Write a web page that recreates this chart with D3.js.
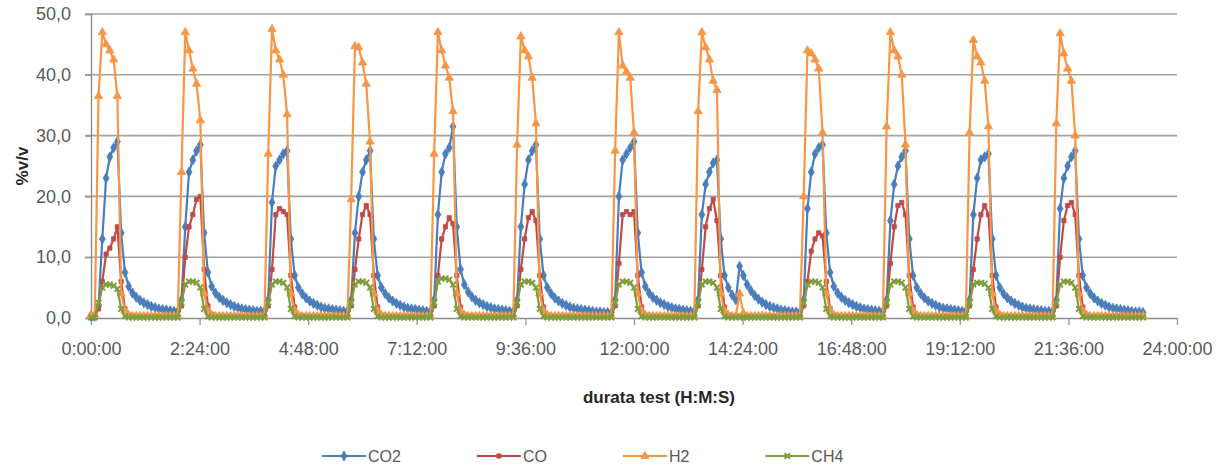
<!DOCTYPE html>
<html>
<head>
<meta charset="utf-8">
<script src="https://cdn.jsdelivr.net/npm/d3@7"></script>
<style>
  body { margin: 0; background: #ffffff; }
  text { font-family: "Liberation Sans", Arial, sans-serif; }
</style>
</head>
<body>
<div id="chart"></div>
<script>
// sampling interval of the analyser (minutes)
var stepMin = 5;

// start of each gasification cycle (minutes from test start)
var cycleStart = [0, 110, 225, 335, 445, 555, 685, 795, 935, 1045, 1155, 1270];

// %v/v readings, one array per cycle
var co2Data = [
  [0.3, 0.3, 2, 13, 23, 26.5, 28, 29, 14, 7.5, 5.2, 4.1, 3.4, 2.9, 2.5, 2.2, 1.9, 1.7, 1.5, 1.4, 1.3, 1.2],
  [1.1, 1.1, 3, 15, 24, 26, 27.5, 28.5, 14, 7.5, 5.2, 4.1, 3.4, 2.9, 2.5, 2.2, 1.9, 1.7, 1.5, 1.4, 1.3, 1.2, 1.1],
  [1.1, 1.1, 3, 19, 25, 26, 27, 27.5, 13, 7, 5, 4, 3.3, 2.8, 2.4, 2.1, 1.8, 1.6, 1.5, 1.4, 1.3, 1.2],
  [1.1, 1.1, 3, 14, 20, 24, 26, 27.5, 13, 7, 5, 4, 3.3, 2.8, 2.4, 2.1, 1.8, 1.6, 1.5, 1.4, 1.3, 1.2],
  [1.1, 1.1, 3, 17, 24, 27, 28, 31.5, 15, 8, 5.5, 4.3, 3.5, 2.9, 2.5, 2.2, 1.9, 1.7, 1.5, 1.4, 1.3, 1.2],
  [1.1, 1.1, 3, 15, 22, 26, 27.5, 28.5, 13, 7, 5, 4, 3.3, 2.8, 2.4, 2.1, 1.8, 1.6, 1.5, 1.4, 1.3, 1.2, 1.1, 1.0, 1.0, 0.9],
  [0.9, 0.9, 3, 20, 26, 27, 28, 29, 14, 7.5, 5.2, 4.1, 3.4, 2.9, 2.5, 2.2, 1.9, 1.7, 1.5, 1.4, 1.3, 1.2],
  [1.1, 1.1, 3, 17, 22, 24, 25.5, 26, 13, 7, 5, 3.8, 3, 8.5, 7, 5.5, 4.5, 3.7, 3.1, 2.6, 2.2, 1.9, 1.7, 1.5, 1.3, 1.2, 1.1, 1.0],
  [1.0, 1.0, 3, 18, 24, 27, 28, 28.5, 14, 7.5, 5.2, 4.1, 3.4, 2.9, 2.5, 2.2, 1.9, 1.7, 1.5, 1.4, 1.3, 1.2],
  [1.1, 1.1, 3, 16, 22, 25, 26.5, 27.5, 13, 7, 5, 4, 3.3, 2.8, 2.4, 2.1, 1.8, 1.6, 1.5, 1.4, 1.3, 1.2],
  [1.1, 1.1, 3, 17, 23, 26, 26.5, 27, 13, 7, 5, 4, 3.3, 2.8, 2.4, 2.1, 1.8, 1.6, 1.5, 1.4, 1.3, 1.2, 1.1],
  [1.1, 1.1, 3, 18, 23, 25, 26.5, 27.5, 13, 7, 5, 4, 3.3, 2.8, 2.4, 2.1, 1.8, 1.6, 1.5, 1.4, 1.3, 1.2, 1.1, 1.0, 1.0, 0.9]
];

var coData = [
  [0.2, 0.2, 1.5, 6, 10.5, 11.5, 13, 15, 6, 1.5, 0.5, 0.3, 0.3, 0.3, 0.3, 0.3, 0.3, 0.3, 0.3, 0.3, 0.3, 0.3],
  [0.3, 0.3, 2, 10, 15, 17, 19.5, 20, 8, 2, 0.6, 0.3, 0.3, 0.3, 0.3, 0.3, 0.3, 0.3, 0.3, 0.3, 0.3, 0.3, 0.3],
  [0.3, 0.3, 2, 8, 17, 18, 17.5, 17, 7, 1.8, 0.5, 0.3, 0.3, 0.3, 0.3, 0.3, 0.3, 0.3, 0.3, 0.3, 0.3, 0.3],
  [0.3, 0.3, 2, 8, 13, 17, 18.5, 17, 7, 1.8, 0.5, 0.3, 0.3, 0.3, 0.3, 0.3, 0.3, 0.3, 0.3, 0.3, 0.3, 0.3],
  [0.3, 0.3, 2, 7, 13, 15, 16.5, 15.5, 7, 1.8, 0.5, 0.3, 0.3, 0.3, 0.3, 0.3, 0.3, 0.3, 0.3, 0.3, 0.3, 0.3],
  [0.3, 0.3, 2, 8, 13, 16.5, 17.5, 16, 7, 1.8, 0.5, 0.3, 0.3, 0.3, 0.3, 0.3, 0.3, 0.3, 0.3, 0.3, 0.3, 0.3, 0.3, 0.3, 0.3, 0.3],
  [0.3, 0.3, 2, 9, 17, 17.5, 17, 17.5, 7, 1.8, 0.5, 0.3, 0.3, 0.3, 0.3, 0.3, 0.3, 0.3, 0.3, 0.3, 0.3, 0.3],
  [0.3, 0.3, 2, 8, 15, 18, 19.5, 16, 7, 1.8, 0.5, 0.3, 0.3, 0.3, 0.3, 0.3, 0.3, 0.3, 0.3, 0.3, 0.3, 0.3, 0.3, 0.3, 0.3, 0.3, 0.3, 0.3],
  [0.3, 0.3, 2, 6, 11, 13, 14, 13.5, 6, 1.5, 0.5, 0.3, 0.3, 0.3, 0.3, 0.3, 0.3, 0.3, 0.3, 0.3, 0.3, 0.3],
  [0.3, 0.3, 2, 9, 15, 18.5, 19, 17, 7, 1.8, 0.5, 0.3, 0.3, 0.3, 0.3, 0.3, 0.3, 0.3, 0.3, 0.3, 0.3, 0.3],
  [0.3, 0.3, 2, 8, 13, 17, 18.5, 17, 7, 1.8, 0.5, 0.3, 0.3, 0.3, 0.3, 0.3, 0.3, 0.3, 0.3, 0.3, 0.3, 0.3, 0.3],
  [0.3, 0.3, 2, 10, 16, 18.5, 19, 17, 7, 1.8, 0.5, 0.3, 0.3, 0.3, 0.3, 0.3, 0.3, 0.3, 0.3, 0.3, 0.3, 0.3, 0.3, 0.3, 0.3, 0.3]
];

var h2Data = [
  [0.5, 0.5, 36.5, 47, 45, 44, 42.5, 36.5, 4, 1.2, 0.5, 0.3, 0.3, 0.3, 0.3, 0.3, 0.3, 0.3, 0.3, 0.3, 0.3, 0.3],
  [0.3, 0.3, 24, 47, 44, 41, 38.5, 32.5, 4, 1.2, 0.5, 0.3, 0.3, 0.3, 0.3, 0.3, 0.3, 0.3, 0.3, 0.3, 0.3, 0.3, 0.3],
  [0.3, 0.3, 27, 47.5, 44, 42.5, 40, 33.5, 4, 1.2, 0.5, 0.3, 0.3, 0.3, 0.3, 0.3, 0.3, 0.3, 0.3, 0.3, 0.3, 0.3],
  [0.3, 0.3, 19.5, 44.7, 44.5, 42, 38.5, 29, 4, 1.2, 0.5, 0.3, 0.3, 0.3, 0.3, 0.3, 0.3, 0.3, 0.3, 0.3, 0.3, 0.3],
  [0.3, 0.3, 27, 47, 44, 41.5, 39.5, 34, 4, 1.2, 0.5, 0.3, 0.3, 0.3, 0.3, 0.3, 0.3, 0.3, 0.3, 0.3, 0.3, 0.3],
  [0.3, 0.3, 28.5, 46.3, 44, 43, 39.5, 32, 4, 1.2, 0.5, 0.3, 0.3, 0.3, 0.3, 0.3, 0.3, 0.3, 0.3, 0.3, 0.3, 0.3, 0.3, 0.3, 0.3, 0.3],
  [0.3, 0.3, 27.5, 47, 41.5, 40.5, 39.5, 30.5, 4, 1.2, 0.5, 0.3, 0.3, 0.3, 0.3, 0.3, 0.3, 0.3, 0.3, 0.3, 0.3, 0.3],
  [0.3, 0.3, 34, 47, 44.5, 42.5, 39, 37.5, 4, 1.2, 0.5, 0.3, 0.3, 4, 0.8, 0.3, 0.3, 0.3, 0.3, 0.3, 0.3, 0.3, 0.3, 0.3, 0.3, 0.3, 0.3, 0.3],
  [0.3, 0.3, 20, 44, 43.5, 42.5, 41, 30.5, 4, 1.2, 0.5, 0.3, 0.3, 0.3, 0.3, 0.3, 0.3, 0.3, 0.3, 0.3, 0.3, 0.3],
  [0.3, 0.3, 31.5, 47, 44, 43, 40, 28.5, 4, 1.2, 0.5, 0.3, 0.3, 0.3, 0.3, 0.3, 0.3, 0.3, 0.3, 0.3, 0.3, 0.3],
  [0.3, 0.3, 30.5, 45.7, 43, 42, 39, 31.5, 4, 1.2, 0.5, 0.3, 0.3, 0.3, 0.3, 0.3, 0.3, 0.3, 0.3, 0.3, 0.3, 0.3, 0.3],
  [0.3, 0.3, 32, 46.8, 43.5, 41, 39, 30, 4, 1.2, 0.5, 0.3, 0.3, 0.3, 0.3, 0.3, 0.3, 0.3, 0.3, 0.3, 0.3, 0.3, 0.3, 0.3, 0.3, 0.3]
];

var ch4Data = [
  [0.1, 0.1, 2.5, 5, 5.5, 5.5, 5.3, 4.8, 1.5, 0.3, 0.1, 0.1, 0.1, 0.1, 0.1, 0.1, 0.1, 0.1, 0.1, 0.1, 0.1, 0.1],
  [0.1, 0.1, 2.5, 5.5, 6, 6, 5.8, 5, 1.5, 0.3, 0.1, 0.1, 0.1, 0.1, 0.1, 0.1, 0.1, 0.1, 0.1, 0.1, 0.1, 0.1, 0.1],
  [0.1, 0.1, 2.5, 5.5, 6, 6, 5.8, 5, 1.5, 0.3, 0.1, 0.1, 0.1, 0.1, 0.1, 0.1, 0.1, 0.1, 0.1, 0.1, 0.1, 0.1],
  [0.1, 0.1, 2.5, 5.5, 6, 6, 5.8, 5, 1.5, 0.3, 0.1, 0.1, 0.1, 0.1, 0.1, 0.1, 0.1, 0.1, 0.1, 0.1, 0.1, 0.1],
  [0.1, 0.1, 2.5, 6, 6.5, 6.5, 6.3, 5.5, 1.5, 0.3, 0.1, 0.1, 0.1, 0.1, 0.1, 0.1, 0.1, 0.1, 0.1, 0.1, 0.1, 0.1],
  [0.1, 0.1, 2.5, 5.5, 6, 6, 5.8, 5, 1.5, 0.3, 0.1, 0.1, 0.1, 0.1, 0.1, 0.1, 0.1, 0.1, 0.1, 0.1, 0.1, 0.1, 0.1, 0.1, 0.1, 0.1],
  [0.1, 0.1, 2.5, 5.5, 6, 6, 5.8, 5, 1.5, 0.3, 0.1, 0.1, 0.1, 0.1, 0.1, 0.1, 0.1, 0.1, 0.1, 0.1, 0.1, 0.1],
  [0.1, 0.1, 2.5, 5.5, 6, 6, 5.8, 5, 1.5, 0.3, 0.1, 0.1, 0.1, 0.1, 0.1, 0.1, 0.1, 0.1, 0.1, 0.1, 0.1, 0.1, 0.1, 0.1, 0.1, 0.1, 0.1, 0.1],
  [0.1, 0.1, 2.5, 5.5, 6, 6, 5.8, 5, 1.5, 0.3, 0.1, 0.1, 0.1, 0.1, 0.1, 0.1, 0.1, 0.1, 0.1, 0.1, 0.1, 0.1],
  [0.1, 0.1, 2.5, 5.5, 6, 6, 5.8, 5, 1.5, 0.3, 0.1, 0.1, 0.1, 0.1, 0.1, 0.1, 0.1, 0.1, 0.1, 0.1, 0.1, 0.1],
  [0.1, 0.1, 2.5, 5.5, 5.8, 5.8, 5.6, 5, 1.5, 0.3, 0.1, 0.1, 0.1, 0.1, 0.1, 0.1, 0.1, 0.1, 0.1, 0.1, 0.1, 0.1, 0.1],
  [0.1, 0.1, 2.5, 5.5, 6, 6, 5.8, 5, 1.5, 0.3, 0.1, 0.1, 0.1, 0.1, 0.1, 0.1, 0.1, 0.1, 0.1, 0.1, 0.1, 0.1, 0.1, 0.1, 0.1, 0.1]
];

var seriesNames = ["CO2", "CO", "H2", "CH4"];
var yTicks = [0, 10, 20, 30, 40, 50];
var xTicks = [0, 144, 288, 432, 576, 720, 864, 1008, 1152, 1296, 1440];
var xTickLabels = ["0:00:00", "2:24:00", "4:48:00", "7:12:00", "9:36:00", "12:00:00",
                   "14:24:00", "16:48:00", "19:12:00", "21:36:00", "24:00:00"];

// style per series (same order as seriesNames)
var seriesColors = ["#4a7ebb", "#be4b48", "#f79646", "#7f9e3e"];
var seriesSymbols = [d3.symbolDiamond, d3.symbolSquare, d3.symbolTriangle, d3.symbolTimes];
var symbolSizes = [30, 18, 30, 22];

// turn the cycle arrays into {t, v} points
function toPoints(cycles) {
    var pts = [];
    cycles.forEach(function(vals, k) {
        vals.forEach(function(v, i) {
            pts.push({ t: cycleStart[k] + i * stepMin, v: v });
        });
    });
    return pts;
}
var allSeries = [co2Data, coData, h2Data, ch4Data].map(toPoints);

var svgWidth = 1225;
var svgHeight = 467;
var chartMargin = { top: 14, right: 48, bottom: 149, left: 91 };
var chartWidth = svgWidth - chartMargin.left - chartMargin.right;
var chartHeight = svgHeight - chartMargin.top - chartMargin.bottom;

var svg = d3.select("#chart")
    .append("svg")
    .attr("width", svgWidth)
    .attr("height", svgHeight);

var chartGroup = svg.append("g")
    .attr("transform", `translate(${chartMargin.left}, ${chartMargin.top})`);

var xScale = d3.scaleLinear().domain([0, 1440]).range([0, chartWidth]);
var yScale = d3.scaleLinear().domain([0, 50]).range([chartHeight, 0]);

// horizontal gridlines
chartGroup.append("g")
    .selectAll("line")
    .data(yTicks.filter(d => d > 0))
    .enter()
    .append("line")
    .attr("x1", -6)
    .attr("x2", chartWidth)
    .attr("y1", d => yScale(d))
    .attr("y2", d => yScale(d))
    .attr("stroke", "#a3a3a3")
    .attr("stroke-width", 1.6);

var commaFmt = d3.formatLocale({ decimal: ",", thousands: ".", grouping: [3], currency: ["", "€"] }).format(".1f");

var leftAxis = d3.axisLeft(yScale)
    .tickValues(yTicks)
    .tickFormat(commaFmt)
    .tickSize(6)
    .tickPadding(14);

var bottomAxis = d3.axisBottom(xScale)
    .tickValues(xTicks)
    .tickFormat((d, i) => xTickLabels[i])
    .tickSize(7)
    .tickSizeOuter(0)
    .tickPadding(17);

var yAxisG = chartGroup.append("g").call(leftAxis);
var xAxisG = chartGroup.append("g")
    .attr("transform", `translate(0, ${chartHeight})`)
    .call(bottomAxis);

[yAxisG, xAxisG].forEach(function(g) {
    g.select(".domain").attr("stroke", "#8c8c8c").attr("stroke-width", 1.4);
    g.selectAll(".tick line").attr("stroke", "#9a9a9a").attr("stroke-width", 1.4);
    g.selectAll(".tick text")
        .attr("fill", "#595959")
        .style("font-size", "18px");
});

// lines and markers, CO2 drawn first so CH4 ends up on top
var lineGen = d3.line()
    .x(d => xScale(d.t))
    .y(d => yScale(d.v));

allSeries.forEach(function(pts, s) {
    chartGroup.append("path")
        .datum(pts)
        .attr("d", lineGen)
        .attr("fill", "none")
        .attr("stroke", seriesColors[s])
        .attr("stroke-width", 2.2)
        .attr("stroke-linejoin", "round");

    var sym = d3.symbol().type(seriesSymbols[s]).size(symbolSizes[s]);
    chartGroup.append("g")
        .selectAll("path")
        .data(pts)
        .enter()
        .append("path")
        .attr("transform", d => `translate(${xScale(d.t)}, ${yScale(d.v)})`)
        .attr("d", sym)
        .attr("fill", seriesColors[s])
        .attr("stroke", seriesColors[s])
        .attr("stroke-width", s === 3 ? 2 : 0.8);
});

// axis titles
chartGroup.append("text")
    .attr("transform", `translate(${-chartMargin.left + 22}, ${chartHeight / 2}) rotate(-90)`)
    .attr("text-anchor", "middle")
    .attr("dy", "0.35em")
    .style("font-size", "17px")
    .style("font-weight", "bold")
    .attr("fill", "#262626")
    .text("%v/v");

chartGroup.append("text")
    .attr("x", 568)
    .attr("y", chartHeight + 85)
    .attr("text-anchor", "middle")
    .style("font-size", "17px")
    .style("font-weight", "bold")
    .attr("fill", "#262626")
    .text("durata test (H:M:S)");

// legend
var legendG = svg.append("g").attr("transform", "translate(0, 456)");
var legendX = 322;
seriesNames.forEach(function(name, s) {
    var item = legendG.append("g").attr("transform", `translate(${legendX}, 0)`);
    item.append("line")
        .attr("x1", 0).attr("x2", 44)
        .attr("stroke", seriesColors[s])
        .attr("stroke-width", 2.2);
    item.append("path")
        .attr("transform", "translate(22, 0)")
        .attr("d", d3.symbol().type(seriesSymbols[s]).size(symbolSizes[s]))
        .attr("fill", seriesColors[s])
        .attr("stroke", seriesColors[s])
        .attr("stroke-width", s === 3 ? 2 : 0.8);
    var label = item.append("text")
        .attr("x", 46)
        .attr("dy", "0.35em")
        .style("font-size", "16px")
        .attr("fill", "#595959")
        .text(name);
    legendX += 46 + label.node().getComputedTextLength() + 76;
});
</script>
</body>
</html>
